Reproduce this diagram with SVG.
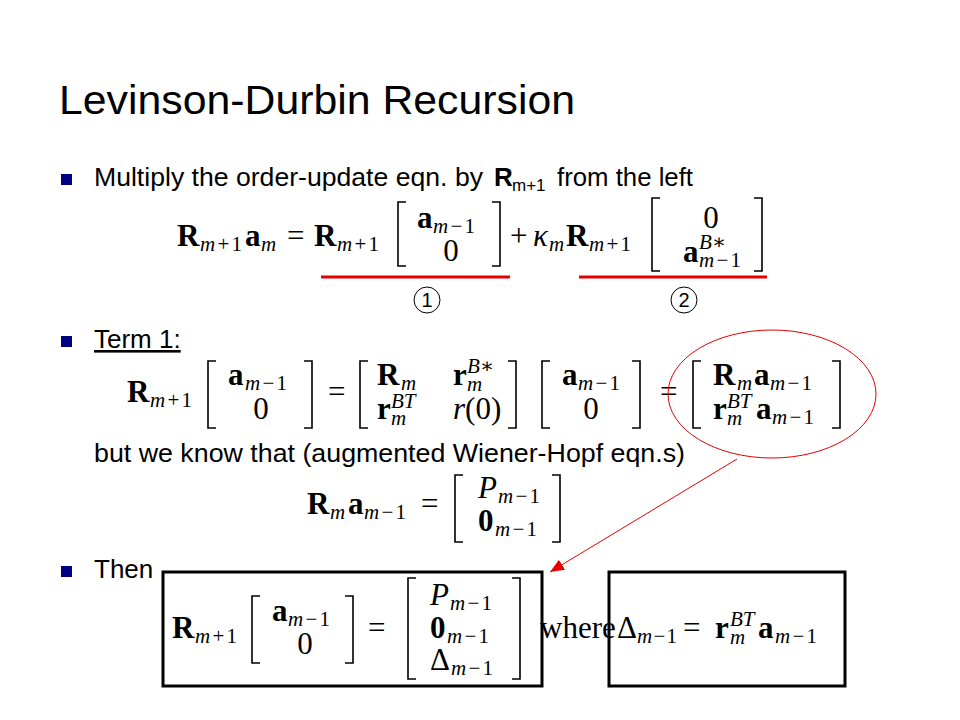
<svg xmlns="http://www.w3.org/2000/svg" width="960" height="720" viewBox="0 0 960 720">
<defs>
<style>
.t{font-family:"Liberation Sans",Arial,sans-serif;fill:#000}
.m{font-family:"Liberation Serif","DejaVu Serif",serif;font-size:31px;fill:#000}
.s{font-family:"Liberation Serif","DejaVu Serif",serif;font-size:21px;fill:#000}
.b{font-weight:bold}
.i{font-style:italic}
.br{fill:none;stroke:#000;stroke-width:1.6}
.bul{fill:#000080}
.red{fill:none;stroke:#e60000}
.box{fill:none;stroke:#000;stroke-width:3}
</style>
<marker id="ah" viewBox="0 0 12 10" refX="12" refY="5" markerWidth="14" markerHeight="12" markerUnits="userSpaceOnUse" orient="auto">
<path d="M0,0 L12,5 L0,10 Z" fill="#e60000"/>
</marker>
</defs>
<rect width="960" height="720" fill="#fff"/>

<g id="title">
<text class="t" x="59" y="114" font-size="40" textLength="516" lengthAdjust="spacingAndGlyphs">Levinson-Durbin Recursion</text>
</g>

<g id="bullet1">
<rect class="bul" x="61" y="174" width="11" height="11"/>
<text class="t" x="94" y="186" font-size="26" textLength="389" lengthAdjust="spacingAndGlyphs">Multiply the order-update eqn. by</text>
<text class="t b" x="494" y="186" font-size="26">R</text>
<text class="t" x="512" y="191" font-size="17">m+1</text>
<text class="t" x="557" y="186" font-size="26" textLength="136" lengthAdjust="spacingAndGlyphs">from the left</text>
</g>

<g id="eq1">
<text class="m b" x="177" y="246">R</text>
<text class="s" x="200" y="251" textLength="42"><tspan class="i">m</tspan>+1</text>
<text class="m b" x="245" y="246">a</text>
<text class="s i" x="261" y="251">m</text>
<text class="m" x="287" y="246">=</text>
<text class="m b" x="314" y="246">R</text>
<text class="s" x="337" y="251" textLength="42"><tspan class="i">m</tspan>+1</text>
<path class="br" d="M406,202 H398 V266 H406"/>
<text class="m b" x="417" y="228">a</text>
<text class="s" x="433" y="233" textLength="42"><tspan class="i">m</tspan>−1</text>
<text class="m" x="451" y="261" text-anchor="middle">0</text>
<path class="br" d="M492,202 H500 V266 H492"/>
<text class="m" x="510" y="246">+</text>
<text class="m i" x="533" y="246">κ</text>
<text class="s i" x="549" y="251">m</text>
<text class="m b" x="566" y="246">R</text>
<text class="s" x="589" y="251" textLength="42"><tspan class="i">m</tspan>+1</text>
<path class="br" d="M660,198 H652 V271 H660"/>
<text class="m" x="711" y="228" text-anchor="middle">0</text>
<text class="m b" x="683" y="262">a</text>
<text class="s i" x="699" y="249">B<tspan font-style="normal">∗</tspan></text>
<text class="s" x="699" y="267" textLength="42"><tspan class="i">m</tspan>−1</text>
<path class="br" d="M754,198 H762 V271 H754"/>
</g>

<g id="marks">
<line class="red" x1="321" y1="277" x2="510" y2="277" stroke-width="3"/>
<line class="red" x1="579" y1="277" x2="767" y2="277" stroke-width="3"/>
<circle cx="427" cy="300" r="13" fill="none" stroke="#000" stroke-width="1"/>
<text class="t" x="427" y="307" font-size="20" text-anchor="middle">1</text>
<circle cx="684" cy="300" r="13" fill="none" stroke="#000" stroke-width="1"/>
<text class="t" x="684" y="307" font-size="20" text-anchor="middle">2</text>
</g>

<g id="bullet2">
<rect class="bul" x="61" y="336" width="11" height="11"/>
<text class="t" x="94" y="348" font-size="26" text-decoration="underline">Term 1:</text>
</g>

<g id="eq2">
<text class="m b" x="127" y="402">R</text>
<text class="s" x="150" y="407" textLength="42"><tspan class="i">m</tspan>+1</text>
<path class="br" d="M216,361 H208 V428 H216"/>
<text class="m b" x="228" y="385">a</text>
<text class="s" x="245" y="390" textLength="42"><tspan class="i">m</tspan>−1</text>
<text class="m" x="261" y="419" text-anchor="middle">0</text>
<path class="br" d="M304,361 H312 V428 H304"/>
<text class="m" x="328" y="402">=</text>
<path class="br" d="M368,361 H360 V428 H368"/>
<text class="m b" x="377" y="385">R</text>
<text class="s i" x="401" y="390">m</text>
<text class="m b" x="453" y="385">r</text>
<text class="s i" x="467" y="373">B<tspan font-style="normal">∗</tspan></text>
<text class="s i" x="467" y="391">m</text>
<text class="m b" x="377" y="419">r</text>
<text class="s i" x="391" y="408">BT</text>
<text class="s i" x="391" y="425">m</text>
<text class="m" x="453" y="419"><tspan class="i">r</tspan>(0)</text>
<path class="br" d="M508,361 H516 V428 H508"/>
<path class="br" d="M550,361 H542 V428 H550"/>
<text class="m b" x="562" y="385">a</text>
<text class="s" x="578" y="390" textLength="42"><tspan class="i">m</tspan>−1</text>
<text class="m" x="591" y="419" text-anchor="middle">0</text>
<path class="br" d="M632,361 H640 V428 H632"/>
<text class="m" x="660" y="402">=</text>
<path class="br" d="M701,361 H693 V428 H701"/>
<text class="m b" x="713" y="385">R</text>
<text class="s i" x="737" y="390">m</text>
<text class="m b" x="754" y="385">a</text>
<text class="s" x="770" y="390" textLength="42"><tspan class="i">m</tspan>−1</text>
<text class="m b" x="713" y="419">r</text>
<text class="s i" x="727" y="408">BT</text>
<text class="s i" x="727" y="425">m</text>
<text class="m b" x="756" y="419">a</text>
<text class="s" x="772" y="424" textLength="42"><tspan class="i">m</tspan>−1</text>
<path class="br" d="M832,361 H840 V428 H832"/>
</g>

<g id="highlight">
<ellipse class="red" cx="772" cy="394" rx="104" ry="64" stroke-width="1"/>
</g>

<g id="text3">
<text class="t" x="94" y="462" font-size="26" textLength="591" lengthAdjust="spacingAndGlyphs">but we know that (augmented Wiener-Hopf eqn.s)</text>
</g>

<g id="eq3">
<text class="m b" x="307" y="514">R</text>
<text class="s i" x="330" y="519">m</text>
<text class="m b" x="348" y="514">a</text>
<text class="s" x="364" y="519" textLength="42"><tspan class="i">m</tspan>−1</text>
<text class="m" x="421" y="514">=</text>
<path class="br" d="M463,475 H455 V542 H463"/>
<text class="m i" x="478" y="498">P</text>
<text class="s" x="498" y="503" textLength="42"><tspan class="i">m</tspan>−1</text>
<text class="m b" x="478" y="531">0</text>
<text class="s" x="495" y="536" textLength="42"><tspan class="i">m</tspan>−1</text>
<path class="br" d="M552,475 H560 V542 H552"/>
</g>

<g id="bullet3">
<rect class="bul" x="61" y="566" width="11" height="11"/>
<text class="t" x="94" y="578" font-size="26">Then</text>
</g>

<g id="box1">
<rect class="box" x="163" y="572" width="379" height="114"/>
<text class="m b" x="172" y="638">R</text>
<text class="s" x="195" y="643" textLength="42"><tspan class="i">m</tspan>+1</text>
<path class="br" d="M260,596 H252 V663 H260"/>
<text class="m b" x="272" y="621">a</text>
<text class="s" x="288" y="626" textLength="42"><tspan class="i">m</tspan>−1</text>
<text class="m" x="305" y="654" text-anchor="middle">0</text>
<path class="br" d="M345,596 H353 V663 H345"/>
<text class="m" x="368" y="638">=</text>
<path class="br" d="M416,578 H408 V679 H416"/>
<text class="m i" x="430" y="605">P</text>
<text class="s" x="450" y="610" textLength="42"><tspan class="i">m</tspan>−1</text>
<text class="m b" x="430" y="638">0</text>
<text class="s" x="447" y="643" textLength="42"><tspan class="i">m</tspan>−1</text>
<text class="m" x="430" y="670">Δ</text>
<text class="s" x="451" y="675" textLength="42"><tspan class="i">m</tspan>−1</text>
<path class="br" d="M512,578 H520 V679 H512"/>
</g>

<g id="where">
<text class="m" x="540" y="638" font-size="27">where</text>
</g>

<g id="box2">
<rect class="box" x="609" y="572" width="236" height="114"/>
<text class="m" x="617" y="638">Δ</text>
<text class="s" x="637" y="643" textLength="40"><tspan class="i">m</tspan>−1</text>
<text class="m" x="683" y="638">=</text>
<text class="m b" x="715" y="638">r</text>
<text class="s i" x="730" y="626">BT</text>
<text class="s i" x="730" y="644">m</text>
<text class="m b" x="758" y="638">a</text>
<text class="s" x="775" y="643" textLength="42"><tspan class="i">m</tspan>−1</text>
</g>

<g id="connectors">
<line x1="737" y1="459" x2="550" y2="572" stroke="#e60000" stroke-width="1" marker-end="url(#ah)"/>
</g>
</svg>
